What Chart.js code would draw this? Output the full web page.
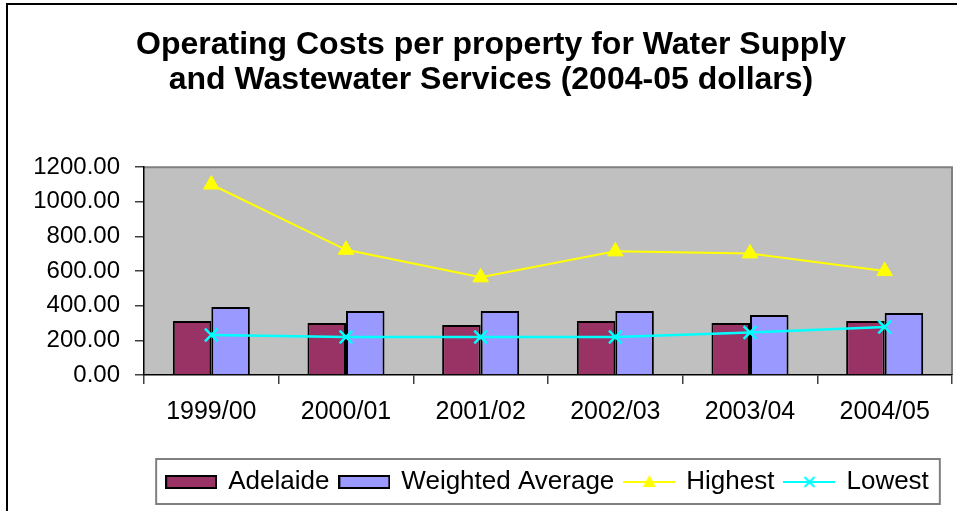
<!DOCTYPE html>
<html>
<head>
<meta charset="utf-8">
<title>Operating Costs per property</title>
<script src="https://cdn.jsdelivr.net/npm/chart.js@4.4.0/dist/chart.umd.min.js"></script>
<style>
    html, body { margin: 0; padding: 0; background: #fff; overflow: hidden; }
</style>
</head>
<body>
<canvas id="costChart" width="957" height="511"></canvas>
<script>
// values (2004-05 dollars)
const years = ['1999/00', '2000/01', '2001/02', '2002/03', '2003/04', '2004/05'];
const adelaide = [312, 300, 289, 312, 300, 312];
const weightedAverage = [392, 369, 369, 369, 346, 358];
const highest = [1100, 723, 564, 714, 702, 600];
const lowest = [231, 220, 220, 220, 245, 277];
const yTicks = [0, 200, 400, 600, 800, 1000, 1200];

const seriesNames = ['Adelaide', 'Weighted Average', 'Highest', 'Lowest'];
const seriesColors = ['#993366', '#9999FF', '#FFFF00', '#00FFFF'];

Chart.defaults.font.family = '"Liberation Sans", Arial, sans-serif';
Chart.defaults.color = '#000';

// little pictures for the legend, like the excel ones
function barSwatch(color) {
    var c = document.createElement('canvas');
    c.width = 52;
    c.height = 14;
    var g = c.getContext('2d');
    g.fillStyle = color;
    g.fillRect(1, 1, 50, 12);
    g.strokeStyle = '#000';
    g.lineWidth = 2;
    g.strokeRect(1, 1, 50, 12);
    return c;
}

function lineSwatch(color, marker) {
    var c = document.createElement('canvas');
    c.width = 52;
    c.height = 20;
    var g = c.getContext('2d');
    g.strokeStyle = color;
    g.fillStyle = color;
    g.lineWidth = 2;
    g.beginPath();
    g.moveTo(0, 10);
    g.lineTo(52, 10);
    g.stroke();
    if (marker === 'triangle') {
        g.beginPath();
        g.moveTo(26, 3);
        g.lineTo(32.5, 15);
        g.lineTo(19.5, 15);
        g.closePath();
        g.fill();
    } else {
        g.beginPath();
        g.moveTo(21, 5); g.lineTo(31, 15);
        g.moveTo(31, 5); g.lineTo(21, 15);
        g.stroke();
    }
    return c;
}

const swatches = [
    barSwatch(seriesColors[0]),
    barSwatch(seriesColors[1]),
    lineSwatch(seriesColors[2], 'triangle'),
    lineSwatch(seriesColors[3], 'cross')
];

const chartDecor = {
    id: 'chartDecor',
    afterLayout(chart) {
        // the original chart object is wider than the picture, so the title sits right of centre
        chart.titleBlock.left = 0;
        chart.titleBlock.right = 982;
        // legend is centred under the plot area
        chart.legend.left = chart.chartArea.left;
        chart.legend.right = chart.chartArea.right;
    },
    beforeDraw(chart) {
        var ctx = chart.ctx;
        var a = chart.chartArea;
        ctx.save();
        ctx.fillStyle = '#fff';
        ctx.fillRect(0, 0, chart.width, chart.height);
        ctx.fillStyle = '#C0C0C0';
        ctx.fillRect(a.left, a.top, a.right - a.left, a.bottom - a.top);
        ctx.strokeStyle = '#808080';
        ctx.lineWidth = 2;
        ctx.beginPath();
        ctx.moveTo(a.left, a.top);
        ctx.lineTo(a.right, a.top);
        ctx.lineTo(a.right, a.bottom);
        ctx.stroke();
        ctx.restore();
    },
    afterDraw(chart) {
        var ctx = chart.ctx;
        var lg = chart.legend;
        ctx.save();
        // outer frame, cut off on the right and bottom like the picture
        ctx.strokeStyle = '#000';
        ctx.lineWidth = 2;
        ctx.strokeRect(7, 4, 1000, 600);
        // legend box
        var boxes = lg.legendHitBoxes;
        if (boxes.length) {
            var first = boxes[0];
            var last = boxes[boxes.length - 1];
            var x0 = first.left - 11;
            var x1 = last.left + last.width + 11;
            ctx.strokeStyle = '#808080';
            ctx.lineWidth = 2;
            ctx.strokeRect(x0, lg.top + 1, x1 - x0, lg.height - 2);
        }
        ctx.restore();
    }
};

document.addEventListener('DOMContentLoaded', function () {
    const chartData = {
        labels: years,
        datasets: [{
            label: seriesNames[0],
            data: adelaide,
            backgroundColor: seriesColors[0],
            borderColor: '#000',
            borderWidth: 2,
            categoryPercentage: 0.572,
            barPercentage: 1,
            order: 1
        }, {
            label: seriesNames[1],
            data: weightedAverage,
            backgroundColor: seriesColors[1],
            borderColor: '#000',
            borderWidth: 2,
            categoryPercentage: 0.572,
            barPercentage: 1,
            order: 1
        }, {
            type: 'line',
            label: seriesNames[2],
            data: highest,
            borderColor: seriesColors[2],
            backgroundColor: seriesColors[2],
            borderWidth: 2,
            pointStyle: 'triangle',
            pointRadius: 9,
            pointBorderWidth: 1,
            pointBackgroundColor: seriesColors[2],
            pointBorderColor: seriesColors[2],
            tension: 0,
            order: 0
        }, {
            type: 'line',
            label: seriesNames[3],
            data: lowest,
            borderColor: seriesColors[3],
            backgroundColor: seriesColors[3],
            borderWidth: 2.5,
            pointStyle: 'crossRot',
            pointRadius: 9,
            pointBorderWidth: 2.5,
            pointBorderColor: seriesColors[3],
            tension: 0,
            order: 0
        }]
    };

    const chartOptions = {
        responsive: false,
        animation: false,
        layout: { autoPadding: false, padding: { left: 0, right: 5, top: 0, bottom: 6 } },
        plugins: {
            title: {
                display: true,
                text: ['Operating Costs per property for Water Supply', 'and Wastewater Services (2004-05 dollars)'],
                font: { size: 32, weight: 'bold', lineHeight: 1.1 },
                color: '#000',
                padding: { top: 27.5, bottom: 69.3 }
            },
            legend: {
                position: 'bottom',
                labels: {
                    font: { size: 26 },
                    color: '#000',
                    usePointStyle: true,
                    pointStyleWidth: 48,
                    padding: 11,
                    sort: function (a, b) { return a.datasetIndex - b.datasetIndex; },
                    generateLabels: function (chart) {
                        var items = Chart.defaults.plugins.legend.labels.generateLabels(chart);
                        items.forEach(function (item) {
                            item.pointStyle = swatches[item.datasetIndex];
                        });
                        return items;
                    }
                }
            },
            tooltip: { enabled: false }
        },
        scales: {
            x: {
                grid: { drawOnChartArea: false, tickLength: 9, color: '#404040', lineWidth: 1.5 },
                border: { color: '#000', width: 1.5 },
                ticks: { font: { size: 25 }, color: '#000', padding: 13 },
                afterFit: function (scale) {
                    scale.height = 83;
                    scale.paddingLeft = 0;
                    scale.paddingRight = 0;
                }
            },
            y: {
                min: yTicks[0],
                max: yTicks[yTicks.length - 1],
                grid: { drawOnChartArea: false, tickLength: 9, color: '#404040', lineWidth: 1.5 },
                border: { color: '#000', width: 1.5 },
                ticks: {
                    stepSize: yTicks[1] - yTicks[0],
                    font: { size: 24 },
                    color: '#000',
                    padding: 15,
                    callback: function (value) { return value.toFixed(2); }
                },
                afterFit: function (scale) { scale.width = 144; }
            }
        }
    };

    const costChart = new Chart(document.getElementById('costChart'), {
        type: 'bar',
        data: chartData,
        options: chartOptions,
        plugins: [chartDecor]
    });
});
</script>
</body>
</html>
